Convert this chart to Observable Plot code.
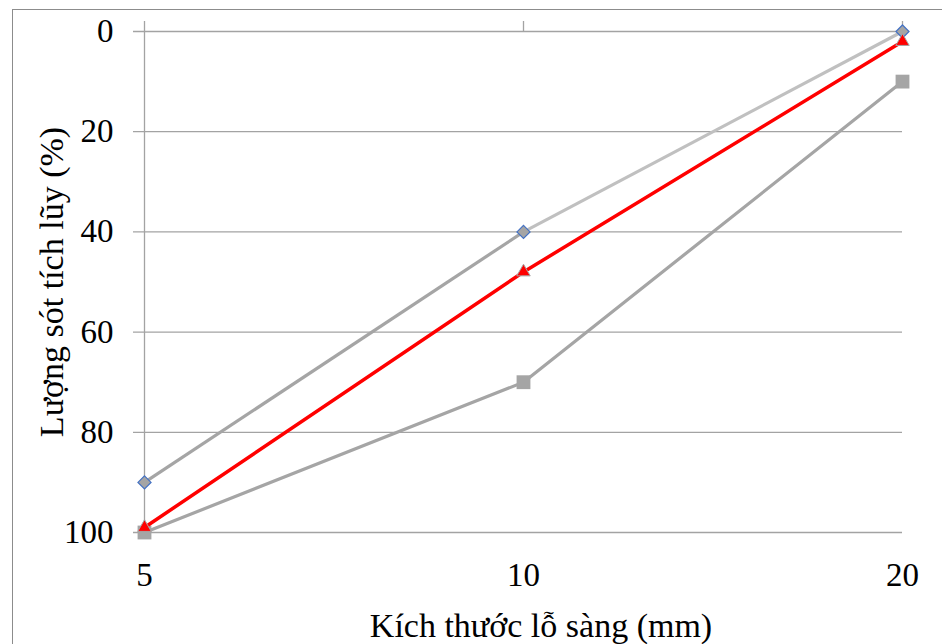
<!DOCTYPE html>
<html>
<head>
<meta charset="utf-8">
<script src="https://cdn.jsdelivr.net/npm/d3@7"></script>
<script src="https://cdn.jsdelivr.net/npm/@observablehq/plot@0.6"></script>
<style>
  html, body { margin: 0; padding: 0; background: #fff; }
  #wrap { position: relative; width: 942px; height: 644px; overflow: hidden; background: #fff; }
  #border { position: absolute; left: 12px; top: 9px; width: 1000px; height: 700px; border: 1.4px solid #8c8c8c; box-sizing: border-box; }
  #chart { position: absolute; left: 0; top: 0; }
</style>
</head>
<body>
<div id="wrap"><div id="border"></div><div id="chart"></div></div>
<script>
// Data
const sizes = [5, 10, 20];                 // Kích thước lỗ sàng (mm)
const upperSeries = [90, 40, 0];           // diamond series
const mixSeries = [99, 48, 2];             // red triangle series
const lowerSeries = [100, 70, 10];         // square series
const yTicks = [0, 20, 40, 60, 80, 100];
const xTitle = "Kích thước lỗ sàng (mm)";
const yTitle = "Lượng sót tích lũy (%)";

const toRows = (vals) => sizes.map((s, i) => ({x: s, y: vals[i]}));
const upperRows = toRows(upperSeries);
const mixRows = toRows(mixSeries);
const lowerRows = toRows(lowerSeries);
const upperSegs = sizes.slice(1).map((s, i) => ({x1: sizes[i], y1: upperSeries[i], x2: s, y2: upperSeries[i + 1]}));

const gridColor = "#a3a3a3";
const chart = Plot.plot({
  width: 942,
  height: 644,
  marginLeft: 143,
  marginRight: 40,
  marginTop: 31,
  marginBottom: 112,
  style: {fontFamily: "'Liberation Serif', 'Times New Roman', serif", fontSize: "33px", background: "transparent", color: "#000"},
  x: {type: "point", domain: sizes, padding: 0},
  y: {domain: [0, 100], reverse: true},
  marks: [
    Plot.ruleY(yTicks, {stroke: gridColor, strokeWidth: 1.3, insetLeft: -10}),
    Plot.ruleX([sizes[0]], {stroke: gridColor, strokeWidth: 1.3, insetTop: -10}),
    Plot.ruleX(sizes.slice(1), {y1: 0, y2: 0, stroke: gridColor, strokeWidth: 1.3, insetTop: -10}),
    Plot.axisY(yTicks, {tickSize: 0, tickPadding: 30, label: null, fontSize: 33, fontFamily: "'Liberation Serif', serif"}),
    Plot.axisX(sizes, {anchor: "bottom", tickSize: 0, tickPadding: 30, label: null, fontSize: 33, fontFamily: "'Liberation Serif', serif"}),
    Plot.text([xTitle], {frameAnchor: "bottom", dy: 94, dx: 18, lineAnchor: "middle", textAnchor: "middle", fontSize: 34, fontFamily: "'Liberation Serif', serif"}),
    Plot.text([yTitle], {frameAnchor: "left", rotate: -90, dx: -91, lineAnchor: "middle", textAnchor: "middle", fontSize: 34, fontFamily: "'Liberation Serif', serif"}),
    // upper series
    Plot.link(upperSegs.slice(0, 1), {x1: "x1", y1: "y1", x2: "x2", y2: "y2", stroke: "#a5a5a5", strokeWidth: 3.2}),
    Plot.link(upperSegs.slice(1), {x1: "x1", y1: "y1", x2: "x2", y2: "y2", stroke: "#c0c0c0", strokeWidth: 3.2}),
    Plot.dot(upperRows, {x: "x", y: "y", symbol: "diamond2", r: 5.9, fill: "#a5a5a5", stroke: "#4472c4", strokeWidth: 1.2}),
    // lower series
    Plot.line(lowerRows, {x: "x", y: "y", stroke: "#a5a5a5", strokeWidth: 3.2}),
    Plot.dot(lowerRows, {x: "x", y: "y", symbol: "square", r: 7.8, fill: "#a5a5a5", stroke: "none"}),
    // red series
    Plot.line(mixRows, {x: "x", y: "y", stroke: "#ff0000", strokeWidth: 3.5}),
    Plot.dot(mixRows, {x: "x", y: "y", symbol: "triangle", r: 5, fill: "#ff0000", stroke: "#a5a5a5", strokeWidth: 1})
  ]
});
document.getElementById("chart").appendChild(chart);
</script>
</body>
</html>
